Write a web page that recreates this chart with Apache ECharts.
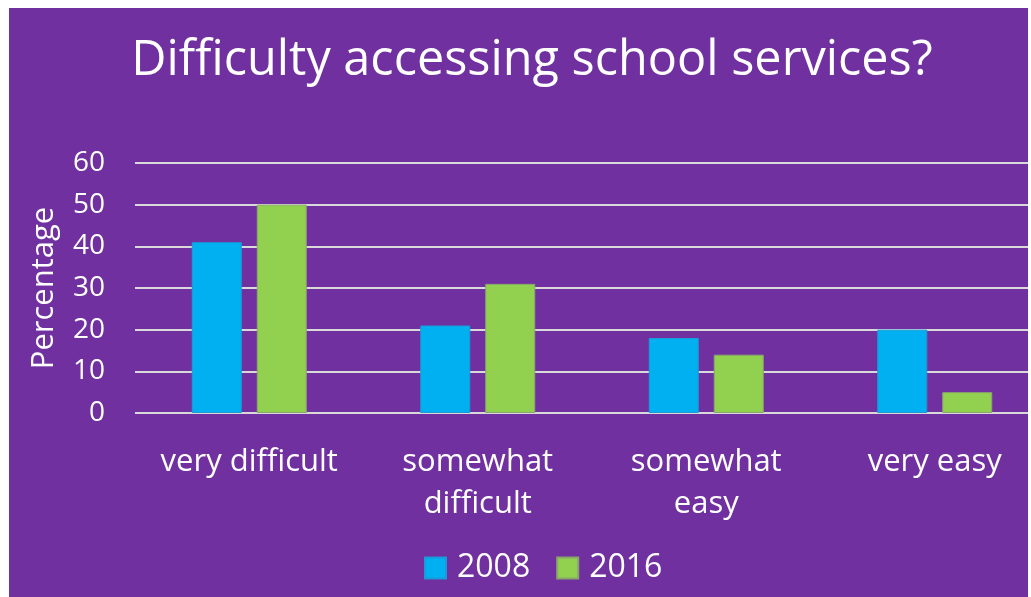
<!DOCTYPE html>
<html><head><meta charset="utf-8">
<script src="https://cdn.jsdelivr.net/npm/echarts@6/dist/echarts.min.js"></script>
<style>
html,body{margin:0;padding:0;background:#fff;width:1031px;height:597px;overflow:hidden;}
#wrap{position:absolute;left:9px;top:8px;width:1019px;height:589px;overflow:hidden;background:#7030a0;}
#c{position:absolute;left:0;top:0;width:1060px;height:589px;}
</style></head>
<body><div id="wrap"><div id="c"></div></div>
<script>
const categories = ['very difficult', 'somewhat\ndifficult', 'somewhat\neasy', 'very easy'];
const seriesNames = ['2008', '2016'];
const values2008 = [41, 21, 18, 20];
const values2016 = [50, 31, 14, 5];
const yTicks = { min: 0, max: 60, interval: 10 };

const font = '"Open Sans", sans-serif';
const chart = echarts.init(document.getElementById('c'));
chart.setOption({
  backgroundColor: '#7030a0',
  animation: false,
  title: {
    text: 'Difficulty accessing school services?',
    left: 518, top: 24, textAlign: 'center',
    textStyle: { color: '#fff', fontFamily: font, fontSize: 48.6, fontWeight: 'normal' }
  },
  legend: {
    data: seriesNames, bottom: 8, left: 410,
    itemWidth: 21, itemHeight: 21, itemGap: 26, icon: 'rect',
    textStyle: { color: '#fff', fontFamily: font, fontSize: 32, padding: [0, 0, 0, 6] }
  },
  grid: { left: 126, top: 155, width: 914, height: 250, containLabel: false },
  xAxis: {
    type: 'category', data: categories,
    axisLine: { show: false }, axisTick: { show: false },
    axisLabel: { color: '#fff', fontFamily: font, fontSize: 31, lineHeight: 42, margin: 28, interval: 0 }
  },
  yAxis: {
    type: 'value', min: yTicks.min, max: yTicks.max, interval: yTicks.interval,
    name: 'Percentage', nameLocation: 'middle', nameGap: 75, nameRotate: 90,
    nameTextStyle: { color: '#fff', fontFamily: font, fontSize: 31 },
    axisLine: { show: false }, axisTick: { show: false },
    axisLabel: { color: '#fff', fontFamily: font, fontSize: 28, margin: 30 },
    splitLine: { lineStyle: { color: '#d9d9d9', width: 2 } }
  },
  series: [
    { name: seriesNames[0], type: 'bar', data: values2008, barWidth: 50, barGap: '30%',
      itemStyle: { color: '#00b0f0', borderColor: '#1a9ad6', borderWidth: 1 } },
    { name: seriesNames[1], type: 'bar', data: values2016, barWidth: 50,
      itemStyle: { color: '#92d050', borderColor: '#8aa66a', borderWidth: 1 } }
  ]
});
</script></body></html>
